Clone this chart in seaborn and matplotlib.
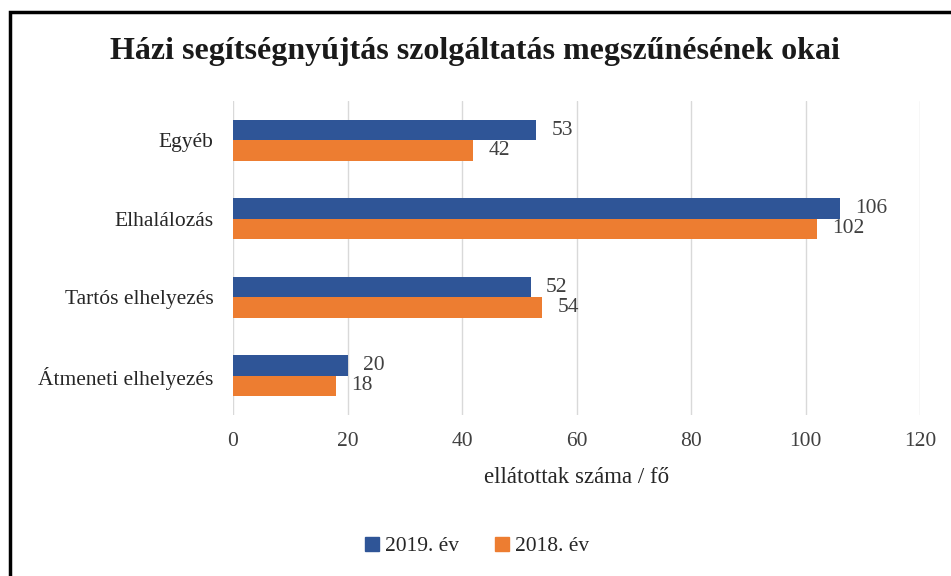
import matplotlib
matplotlib.use("Agg")
import matplotlib.pyplot as plt
import seaborn as sns
import pandas as pd
from matplotlib.patches import Rectangle
from matplotlib.lines import Line2D

categories = ["Egyéb", "Elhalálozás", "Tartós elhelyezés", "Átmeneti elhelyezés"]
series_names = ["2019. év", "2018. év"]
values_2019 = [53, 106, 52, 20]
values_2018 = [42, 102, 54, 18]
x_ticks = [0, 20, 40, 60, 80, 100, 120]

title = "Házi segítségnyújtás szolgáltatás megszűnésének okai"
xlabel = "ellátottak száma / fő"
colors = ["#2F5597", "#ED7D31"]

df = pd.DataFrame({
    "kategoria": categories * 2,
    "ev": [series_names[0]] * 4 + [series_names[1]] * 4,
    "ertek": values_2019 + values_2018,
})

sns.set_theme(style="white")
plt.rcParams["font.family"] = ["Liberation Serif", "DejaVu Serif"]

fig = plt.figure(figsize=(9.51, 5.76), dpi=100)
ax = fig.add_axes([233 / 951, 1 - 415 / 576, (920 - 233) / 951, 314 / 576])

sns.barplot(data=df, y="kategoria", x="ertek", hue="ev", order=categories,
            hue_order=series_names, palette=colors, orient="h", width=0.52,
            saturation=1, linewidth=0, ax=ax, legend=False)

for c in ax.containers:
    ax.bar_label(c, labels=[f"{v:g}" for v in c.datavalues], padding=11,
                 fontsize=15.5, color="#404040")

ax.set_xlim(0, 120)
ax.set_ylim(3.5, -0.5)
ax.set_xticks(x_ticks)
ax.set_xticklabels([str(t) for t in x_ticks], fontsize=15.5, color="#404040")
ax.tick_params(axis="y", labelsize=15.5, labelcolor="#262626", length=0, pad=14)
ax.tick_params(axis="x", length=0, pad=12)
ax.set_ylabel("")
ax.set_xlabel(xlabel, fontsize=16.5, color="#262626", labelpad=12)
ax.xaxis.grid(True, color="#D9D9D9", linewidth=1)
ax.set_axisbelow(True)
for s in ax.spines.values():
    s.set_visible(False)

fig.text(0.5, 1 - 52 / 576, title, ha="center", va="center", fontsize=23,
         fontweight="bold", color="#1a1a1a")

handles = [Line2D([0], [0], marker="s", linestyle="none", markersize=10,
                  markerfacecolor=col, markeredgecolor=col) for col in colors]
fig.legend(handles, series_names, loc="center", bbox_to_anchor=(0.5, 1 - 546 / 576),
           ncol=2, frameon=False, fontsize=15.5, handletextpad=0.1, columnspacing=1.5,
           handlelength=1.0)

fig.patches.append(Rectangle((10 / 951, -0.1), 1.2, 1 - 12 / 576 + 0.1,
                             transform=fig.transFigure, fill=False,
                             edgecolor="black", linewidth=2.5, figure=fig))

fig.savefig("out.png", dpi=100)
